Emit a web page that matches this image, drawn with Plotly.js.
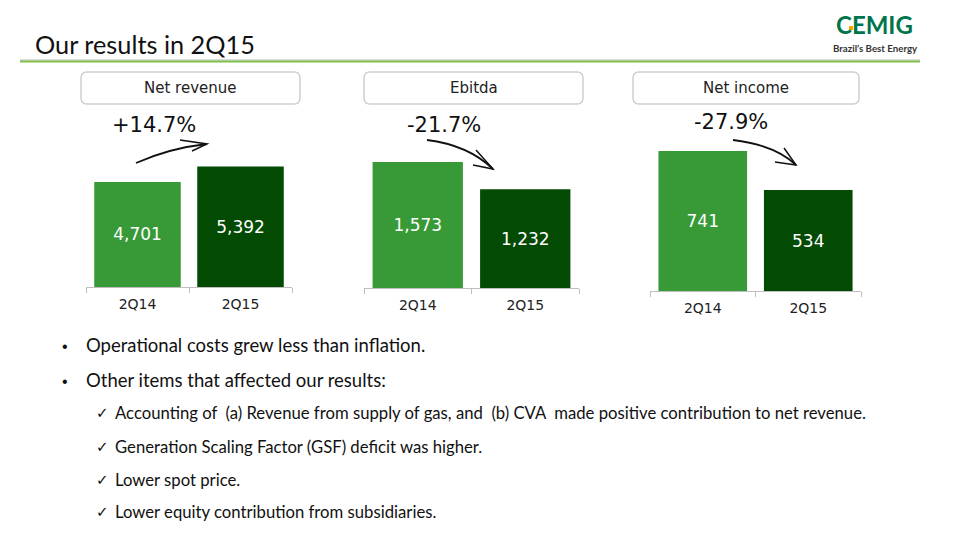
<!DOCTYPE html>
<html>
<head>
<meta charset="utf-8">
<script src="https://cdn.plot.ly/plotly-3.0.1.min.js"></script>
<style>html,body{margin:0;padding:0;background:#fff;}#chart{width:959px;height:540px;}</style>
</head>
<body>
<div id="chart"></div>
<script>
// ---- data ----
var categories = ['2Q14', '2Q15'];
var netRevenue = [4701, 5392];
var ebitda = [1573, 1232];
var netIncome = [741, 534];
var panelTitles = ['Net revenue', 'Ebitda', 'Net income'];
var changeLabels = ['+14.7%', '-21.7%', '-27.9%'];
var slideTitle = 'Our results in 2Q15';
var bullets = ['Operational costs grew less than inflation.', 'Other items that affected our results:'];
var subBullets = [
  'Accounting of  (a) Revenue from supply of gas, and  (b) CVA  made positive contribution to net revenue.',
  'Generation Scaling Factor (GSF) deficit was higher.',
  'Lower spot price.',
  'Lower equity contribution from subsidiaries.'
];

// ---- helpers (pixel -> paper) ----
var W = 959, H = 540;
function px(x) { return x / W; }
function py(y) { return 1 - y / H; }

var light = '#379a37', dark = '#034a03';
var series = [netRevenue, ebitda, netIncome];
var axisNames = ['', '2', '3'];
var bodyFont = 'Lato, Open Sans, sans-serif';

var traces = series.map(function (vals, i) {
  return {
    type: 'bar',
    x: categories,
    y: vals,
    xaxis: 'x' + axisNames[i],
    yaxis: 'y' + axisNames[i],
    marker: { color: [light, dark], line: { width: 0 } },
    texttemplate: '%{y:,}',
    textposition: 'inside',
    insidetextanchor: 'middle',
    textangle: 0,
    textfont: { family: 'DejaVu Sans, Verdana, sans-serif', size: 17, color: '#ffffff' },
    hoverinfo: 'none',
    showlegend: false
  };
});

// panel geometry (pixels)
var panels = [
  { x0: 86, x1: 292, base: 287, top: 140, yr: 6581, box: [81, 300], lab: [154, 125], arrow: { s: [136, 163], c: [170, 148], t: [207, 144], h1: [180, 140], h2: [192, 151] } },
  { x0: 364, x1: 579, base: 288, top: 140, yr: 1848, box: [364, 583], lab: [444, 125], arrow: { s: [427, 140], c: [468, 145], t: [493, 169], h1: [476, 150], h2: [473, 165] } },
  { x0: 650, x1: 861, base: 291, top: 140, yr: 799, box: [633, 859], lab: [731, 122], arrow: { s: [733, 140], c: [775, 145], t: [796, 165], h1: [784, 148], h2: [775, 162] } }
];

var layout = {
  width: W, height: H,
  margin: { l: 0, r: 0, t: 0, b: 0 },
  paper_bgcolor: '#ffffff', plot_bgcolor: 'rgba(0,0,0,0)',
  bargap: 0.16,
  hovermode: false,
  shapes: [], annotations: []
};

panels.forEach(function (p, i) {
  var n = axisNames[i];
  layout['xaxis' + n] = {
    domain: [px(p.x0), px(p.x1)],
    anchor: 'y' + n,
    showline: true, linecolor: '#bfbfbf', linewidth: 1,
    ticks: 'outside', tickson: 'boundaries', ticklen: 5, tickcolor: '#bfbfbf',
    ticklabelstandoff: 4,
    showgrid: false, zeroline: false, fixedrange: true,
    tickfont: { family: 'DejaVu Sans, Verdana, sans-serif', size: 14, color: '#222222' }
  };
  layout['yaxis' + n] = {
    domain: [py(p.base), py(p.top)],
    anchor: 'x' + n,
    range: [0, p.yr],
    visible: false, showgrid: false, zeroline: false, fixedrange: true
  };
  // rounded title box
  var bx0 = p.box[0], bx1 = p.box[1], by0 = 72, by1 = 104, r = 6;
  var rx = r / W, ry = r / H;
  var path = 'M' + (px(bx0) + rx) + ',' + py(by0) +
    ' L' + (px(bx1) - rx) + ',' + py(by0) +
    ' Q' + px(bx1) + ',' + py(by0) + ' ' + px(bx1) + ',' + (py(by0) - ry) +
    ' L' + px(bx1) + ',' + (py(by1) + ry) +
    ' Q' + px(bx1) + ',' + py(by1) + ' ' + (px(bx1) - rx) + ',' + py(by1) +
    ' L' + (px(bx0) + rx) + ',' + py(by1) +
    ' Q' + px(bx0) + ',' + py(by1) + ' ' + px(bx0) + ',' + (py(by1) + ry) +
    ' L' + px(bx0) + ',' + (py(by0) - ry) +
    ' Q' + px(bx0) + ',' + py(by0) + ' ' + (px(bx0) + rx) + ',' + py(by0) + ' Z';
  layout.shapes.push({ type: 'path', xref: 'paper', yref: 'paper', path: path,
    line: { color: '#d0d0d0', width: 1.5 }, fillcolor: '#ffffff' });
  layout.annotations.push({ xref: 'paper', yref: 'paper', x: px((bx0 + bx1) / 2), y: py(88),
    xanchor: 'center', yanchor: 'middle', showarrow: false, text: panelTitles[i],
    font: { family: 'DejaVu Sans, Verdana, sans-serif', size: 15, color: '#222222' } });
  layout.annotations.push({ xref: 'paper', yref: 'paper', x: px(p.lab[0]), y: py(p.lab[1]),
    xanchor: 'center', yanchor: 'middle', showarrow: false, text: changeLabels[i],
    font: { family: 'DejaVu Sans, Verdana, sans-serif', size: 21, color: '#111111' } });
  // hand-drawn arrow
  var a = p.arrow;
  layout.shapes.push({ type: 'path', xref: 'paper', yref: 'paper',
    path: 'M' + px(a.s[0]) + ',' + py(a.s[1]) + ' Q' + px(a.c[0]) + ',' + py(a.c[1]) + ' ' + px(a.t[0]) + ',' + py(a.t[1]),
    line: { color: '#111111', width: 1.8 } });
  layout.shapes.push({ type: 'path', xref: 'paper', yref: 'paper',
    path: 'M' + px(a.h1[0]) + ',' + py(a.h1[1]) + ' L' + px(a.t[0]) + ',' + py(a.t[1]) + ' L' + px(a.h2[0]) + ',' + py(a.h2[1]),
    line: { color: '#111111', width: 1.5 } });
});

// header
layout.annotations.push({ xref: 'paper', yref: 'paper', x: px(33), y: py(44), xanchor: 'left', yanchor: 'middle',
  showarrow: false, text: slideTitle,
  font: { family: bodyFont, size: 25.3, color: '#111111' } });
layout.shapes.push({ type: 'line', xref: 'paper', yref: 'paper', x0: px(20), x1: px(920), y0: py(60), y1: py(60),
  line: { color: '#b9b9b9', width: 1 } });
layout.shapes.push({ type: 'line', xref: 'paper', yref: 'paper', x0: px(20), x1: px(920), y0: py(61.5), y1: py(61.5),
  line: { color: '#7fbf4a', width: 2 } });

// logo
layout.annotations.push({ xref: 'paper', yref: 'paper', x: px(874), y: py(25), xanchor: 'center', yanchor: 'middle',
  showarrow: false, text: '<b>CEMIG</b>', borderpad: 0,
  font: { family: 'Lato, Arial, sans-serif', size: 24, color: '#00744a' } });
layout.shapes.push({ type: 'rect', xref: 'paper', yref: 'paper', layer: 'above', x0: px(849), x1: px(853), y0: py(30), y1: py(26),
  fillcolor: '#f7a600', line: { width: 0 } });
layout.annotations.push({ xref: 'paper', yref: 'paper', x: px(875), y: py(47.5), xanchor: 'center', yanchor: 'middle',
  showarrow: false, text: '<b>Brazil\u2019s Best Energy</b>', borderpad: 0,
  font: { family: 'Lato, Arial, sans-serif', size: 9.7, color: '#333333' } });

// bullets
var bulletY = [346, 381];
bullets.forEach(function (t, i) {
  layout.annotations.push({ xref: 'paper', yref: 'paper', x: px(60), y: py(bulletY[i]), xanchor: 'left', yanchor: 'middle',
    showarrow: false, text: '\u2022', font: { family: 'Liberation Sans, Arial, sans-serif', size: 16, color: '#111111' } });
  layout.annotations.push({ xref: 'paper', yref: 'paper', x: px(84), y: py(bulletY[i] - 1), xanchor: 'left', yanchor: 'middle',
    showarrow: false, text: t, font: { family: bodyFont, size: 18.5, color: '#111111' } });
});
var subY = [413, 447, 480, 512];
subBullets.forEach(function (t, i) {
  layout.annotations.push({ xref: 'paper', yref: 'paper', x: px(94), y: py(subY[i]), xanchor: 'left', yanchor: 'middle',
    showarrow: false, text: '\u2713', font: { family: 'DejaVu Sans, sans-serif', size: 15, color: '#111111' } });
  layout.annotations.push({ xref: 'paper', yref: 'paper', x: px(113), y: py(subY[i]), xanchor: 'left', yanchor: 'middle',
    showarrow: false, text: t, font: { family: bodyFont, size: 16.7, color: '#111111' } });
});

Plotly.newPlot('chart', traces, layout, { displayModeBar: false, staticPlot: true });
</script>
</body>
</html>
